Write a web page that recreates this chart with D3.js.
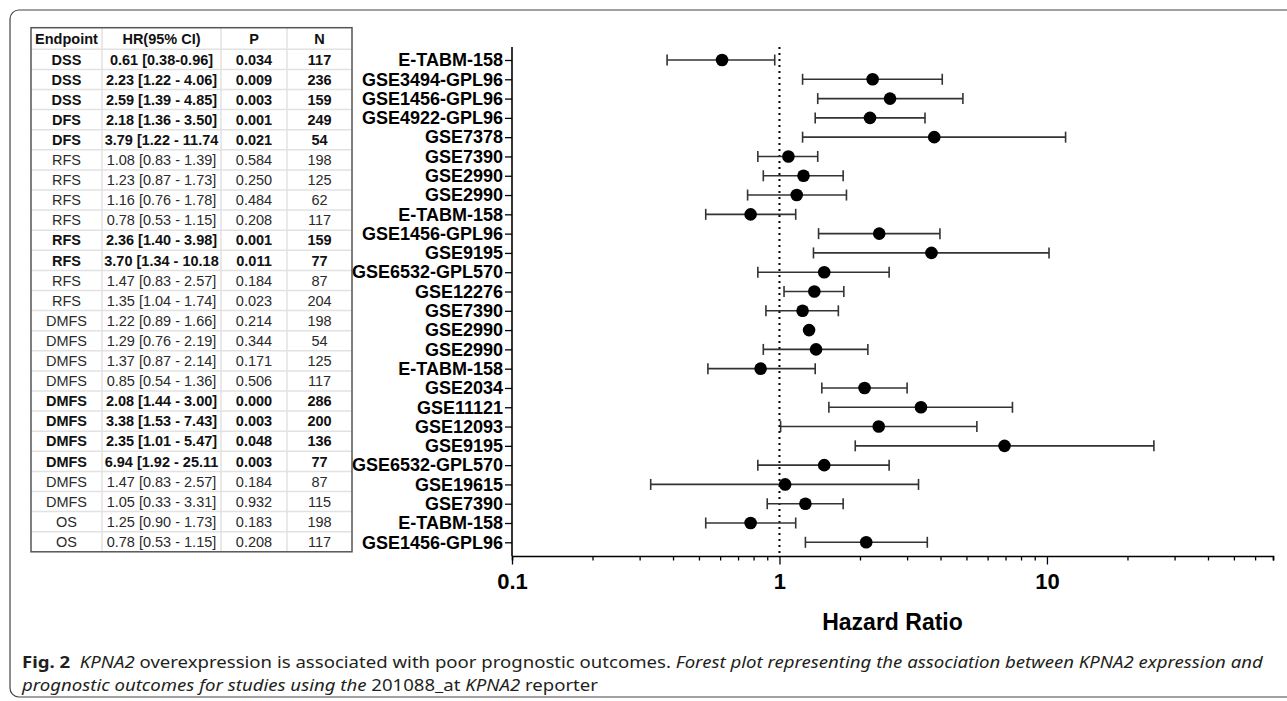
<!DOCTYPE html>
<html>
<head>
<meta charset="utf-8">
<script src="https://cdn.jsdelivr.net/npm/d3@7"></script>
<style>
  body { margin: 0; background: #fff; }
  svg { display: block; }
</style>
</head>
<body>
<svg width="1287" height="701"></svg>
<script>
// forest plot rows (top to bottom)
const studies = ["E-TABM-158", "GSE3494-GPL96", "GSE1456-GPL96", "GSE4922-GPL96", "GSE7378",
  "GSE7390", "GSE2990", "GSE2990", "E-TABM-158", "GSE1456-GPL96", "GSE9195", "GSE6532-GPL570",
  "GSE12276", "GSE7390", "GSE2990", "GSE2990", "E-TABM-158", "GSE2034", "GSE11121", "GSE12093",
  "GSE9195", "GSE6532-GPL570", "GSE19615", "GSE7390", "E-TABM-158", "GSE1456-GPL96"];
const hr = [0.61, 2.23, 2.59, 2.18, 3.79, 1.08, 1.23, 1.16, 0.78, 2.36, 3.70, 1.47, 1.35,
  1.22, 1.29, 1.37, 0.85, 2.08, 3.38, 2.35, 6.94, 1.47, 1.05, 1.25, 0.78, 2.11];
const ciLow = [0.38, 1.22, 1.39, 1.36, 1.22, 0.83, 0.87, 0.76, 0.53, 1.40, 1.34, 0.83, 1.04,
  0.89, null, 0.87, 0.54, 1.44, 1.53, 1.01, 1.92, 0.83, 0.33, 0.90, 0.53, 1.25];
const ciHigh = [0.96, 4.06, 4.85, 3.50, 11.74, 1.39, 1.73, 1.78, 1.15, 3.98, 10.18, 2.57, 1.74,
  1.66, null, 2.14, 1.36, 3.00, 7.43, 5.47, 25.11, 2.57, 3.31, 1.73, 1.15, 3.57];
const majorTicks = [0.1, 1, 10];

// table on the left
const tableHeader = ["Endpoint", "HR(95% CI)", "P", "N"];
const endpoints = ["DSS", "DSS", "DSS", "DFS", "DFS", "RFS", "RFS", "RFS", "RFS", "RFS", "RFS",
  "RFS", "RFS", "DMFS", "DMFS", "DMFS", "DMFS", "DMFS", "DMFS", "DMFS", "DMFS", "DMFS", "DMFS",
  "OS", "OS"];
const hrText = ["0.61 [0.38-0.96]", "2.23 [1.22 - 4.06]", "2.59 [1.39 - 4.85]", "2.18 [1.36 - 3.50]",
  "3.79 [1.22 - 11.74", "1.08 [0.83 - 1.39]", "1.23 [0.87 - 1.73]", "1.16 [0.76 - 1.78]",
  "0.78 [0.53 - 1.15]", "2.36 [1.40 - 3.98]", "3.70 [1.34 - 10.18", "1.47 [0.83 - 2.57]",
  "1.35 [1.04 - 1.74]", "1.22 [0.89 - 1.66]", "1.29 [0.76 - 2.19]", "1.37 [0.87 - 2.14]",
  "0.85 [0.54 - 1.36]", "2.08 [1.44 - 3.00]", "3.38 [1.53 - 7.43]", "2.35 [1.01 - 5.47]",
  "6.94 [1.92 - 25.11", "1.47 [0.83 - 2.57]", "1.05 [0.33 - 3.31]", "1.25 [0.90 - 1.73]",
  "0.78 [0.53 - 1.15]"];
const pValues = ["0.034", "0.009", "0.003", "0.001", "0.021", "0.584", "0.250", "0.484", "0.208",
  "0.001", "0.011", "0.184", "0.023", "0.214", "0.344", "0.171", "0.506", "0.000", "0.003",
  "0.048", "0.003", "0.184", "0.932", "0.183", "0.208"];
const nValues = ["117", "236", "159", "249", "54", "198", "125", "62", "117", "159", "77", "87",
  "204", "198", "54", "125", "117", "286", "200", "136", "77", "87", "115", "198", "117"];
const boldRows = [0, 1, 2, 3, 4, 9, 10, 17, 18, 19, 20];

const svg = d3.select("svg");
const font = "'Liberation Sans', Arial, sans-serif";

// outer frame
svg.append("rect")
  .attr("x", 10).attr("y", 10).attr("width", 1300).attr("height", 687)
  .attr("rx", 9).attr("fill", "none").attr("stroke", "#444").attr("stroke-width", 1.2);

// ---- table ----
const colX = [31, 102, 221, 287, 352];
const tY = d3.scaleBand().domain(d3.range(endpoints.length)).range([49.3, 551.8]);
const table = svg.append("g").attr("font-family", font).attr("font-size", 14.5);

const rows = endpoints.map((e, i) => [e, hrText[i], pValues[i], nValues[i]]);

// grid lines
table.selectAll(".hline").data(d3.range(1, endpoints.length))
  .enter().append("line")
  .attr("x1", colX[0]).attr("x2", colX[4])
  .attr("y1", d => tY(d)).attr("y2", d => tY(d))
  .attr("stroke", "#e2e2e2").attr("stroke-width", 1.5);
table.append("line")
  .attr("x1", colX[0]).attr("x2", colX[4]).attr("y1", 49.3).attr("y2", 49.3)
  .attr("stroke", "#e2e2e2").attr("stroke-width", 1.5);
table.selectAll(".vline").data(colX.slice(1, 4))
  .enter().append("line")
  .attr("x1", d => d).attr("x2", d => d).attr("y1", 27.7).attr("y2", 551.8)
  .attr("stroke", "#e2e2e2").attr("stroke-width", 1.5);
table.append("rect")
  .attr("x", colX[0]).attr("y", 27.7).attr("width", colX[4] - colX[0]).attr("height", 551.8 - 27.7)
  .attr("fill", "none").attr("stroke", "#555").attr("stroke-width", 1.5);

tableHeader.forEach((h, c) => {
  table.append("text")
    .attr("x", (colX[c] + colX[c + 1]) / 2).attr("y", 39).attr("dy", "0.36em")
    .attr("text-anchor", "middle").attr("font-weight", "bold").attr("fill", "#111")
    .text(h);
});
rows.forEach((r, i) => {
  const bold = boldRows.includes(i);
  r.forEach((v, c) => {
    table.append("text")
      .attr("x", (colX[c] + colX[c + 1]) / 2).attr("y", tY(i) + tY.bandwidth() / 2).attr("dy", "0.36em")
      .attr("text-anchor", "middle")
      .attr("font-weight", bold ? "bold" : "normal")
      .attr("fill", bold ? "#111" : "#2a2a2a")
      .text(v);
  });
});

// ---- forest plot ----
const x = d3.scaleLog().domain([0.1, 70]).range([512, 1273]);
const y = d3.scalePoint().domain(d3.range(studies.length)).range([60, 542.3]);
const axisY = 556, topY = 47;

const plot = svg.append("g");

// reference line at HR = 1
plot.append("line")
  .attr("x1", x(1)).attr("x2", x(1)).attr("y1", topY).attr("y2", axisY)
  .attr("stroke", "#000").attr("stroke-width", 2).attr("stroke-dasharray", "2,4");

// error bars
const data = studies.map((s, i) => ({ i, hr: hr[i], lo: ciLow[i], hi: ciHigh[i] }));
const withCi = data.filter(d => d.lo != null);
plot.selectAll(".ci").data(withCi).enter().append("line")
  .attr("x1", d => x(d.lo)).attr("x2", d => x(d.hi))
  .attr("y1", d => y(d.i)).attr("y2", d => y(d.i))
  .attr("stroke", "#333").attr("stroke-width", 1.6);
plot.selectAll(".capL").data(withCi).enter().append("line")
  .attr("x1", d => x(d.lo)).attr("x2", d => x(d.lo))
  .attr("y1", d => y(d.i) - 5.5).attr("y2", d => y(d.i) + 5.5)
  .attr("stroke", "#333").attr("stroke-width", 1.6);
plot.selectAll(".capR").data(withCi).enter().append("line")
  .attr("x1", d => x(d.hi)).attr("x2", d => x(d.hi))
  .attr("y1", d => y(d.i) - 5.5).attr("y2", d => y(d.i) + 5.5)
  .attr("stroke", "#333").attr("stroke-width", 1.6);
plot.selectAll(".pt").data(data).enter().append("circle")
  .attr("cx", d => x(d.hr)).attr("cy", d => y(d.i)).attr("r", 6.3).attr("fill", "#000");

// y axis
const yAxis = plot.append("g")
  .attr("transform", `translate(512,0)`)
  .call(d3.axisLeft(y).tickSize(7).tickPadding(2).tickFormat(i => studies[i]));
yAxis.select(".domain").attr("d", `M0,${topY}V${axisY}`).attr("stroke-width", 1.6);
yAxis.selectAll(".tick line").attr("stroke-width", 1.3);
yAxis.selectAll("text")
  .attr("font-family", font).attr("font-size", 18).attr("font-weight", "bold").attr("fill", "#000");

// x axis: minor + major ticks
const allTicks = [];
[0.1, 1, 10].forEach(b => d3.range(1, 10).forEach(k => { if (b * k <= 70.001) allTicks.push(+(b * k).toPrecision(3)); }));
const minorTicks = allTicks.filter(t => !majorTicks.includes(t));

const xMinor = plot.append("g")
  .attr("transform", `translate(0,${axisY})`)
  .call(d3.axisBottom(x).tickValues(minorTicks).tickSize(4.5).tickFormat(""));
xMinor.select(".domain").attr("stroke-width", 1.6);
xMinor.selectAll(".tick line").attr("stroke-width", 1.3);

const xMajor = plot.append("g")
  .attr("transform", `translate(0,${axisY})`)
  .call(d3.axisBottom(x).tickValues(majorTicks).tickSize(8.5).tickPadding(9).tickFormat(d => String(d)));
xMajor.select(".domain").remove();
xMajor.selectAll(".tick line").attr("stroke-width", 1.3);
xMajor.selectAll("text")
  .attr("font-family", font).attr("font-size", 22).attr("font-weight", "bold").attr("fill", "#000");

plot.append("text")
  .attr("x", (x.range()[0] + x.range()[1]) / 2).attr("y", 630)
  .attr("text-anchor", "middle")
  .attr("font-family", font).attr("font-size", 23).attr("font-weight", "bold")
  .text("Hazard Ratio");

// ---- caption ----
const capFont = "'Noto Sans', 'Open Sans', sans-serif";
function captionLine(parts) {
  const t = svg.append("text").attr("x", 0).attr("y", 0)
    .attr("font-family", capFont).attr("font-size", 15.5).attr("fill", "#231f20");
  parts.forEach(p => {
    t.append("tspan")
      .attr("font-weight", p.b ? "bold" : "normal")
      .attr("font-style", p.i ? "italic" : "normal")
      .text(p.t);
  });
  return { t, w: t.node().getComputedTextLength() };
}
const line1 = captionLine([
  { t: "Fig. 2", b: true }, { t: "\u00a0\u00a0" }, { t: "KPNA2", i: true },
  { t: " overexpression is associated with poor prognostic outcomes. " },
  { t: "Forest plot representing the association between KPNA2 expression and", i: true }]);
const line2 = captionLine([
  { t: "prognostic outcomes for studies using the ", i: true }, { t: "201088_at " },
  { t: "KPNA2", i: true }, { t: " reporter" }]);
const sx = (1263 - 22) / line1.w;
line1.t.attr("transform", `translate(22,668) scale(${sx},1)`);
line2.t.attr("transform", `translate(22,691) scale(${sx},1)`);
</script>
</body>
</html>
